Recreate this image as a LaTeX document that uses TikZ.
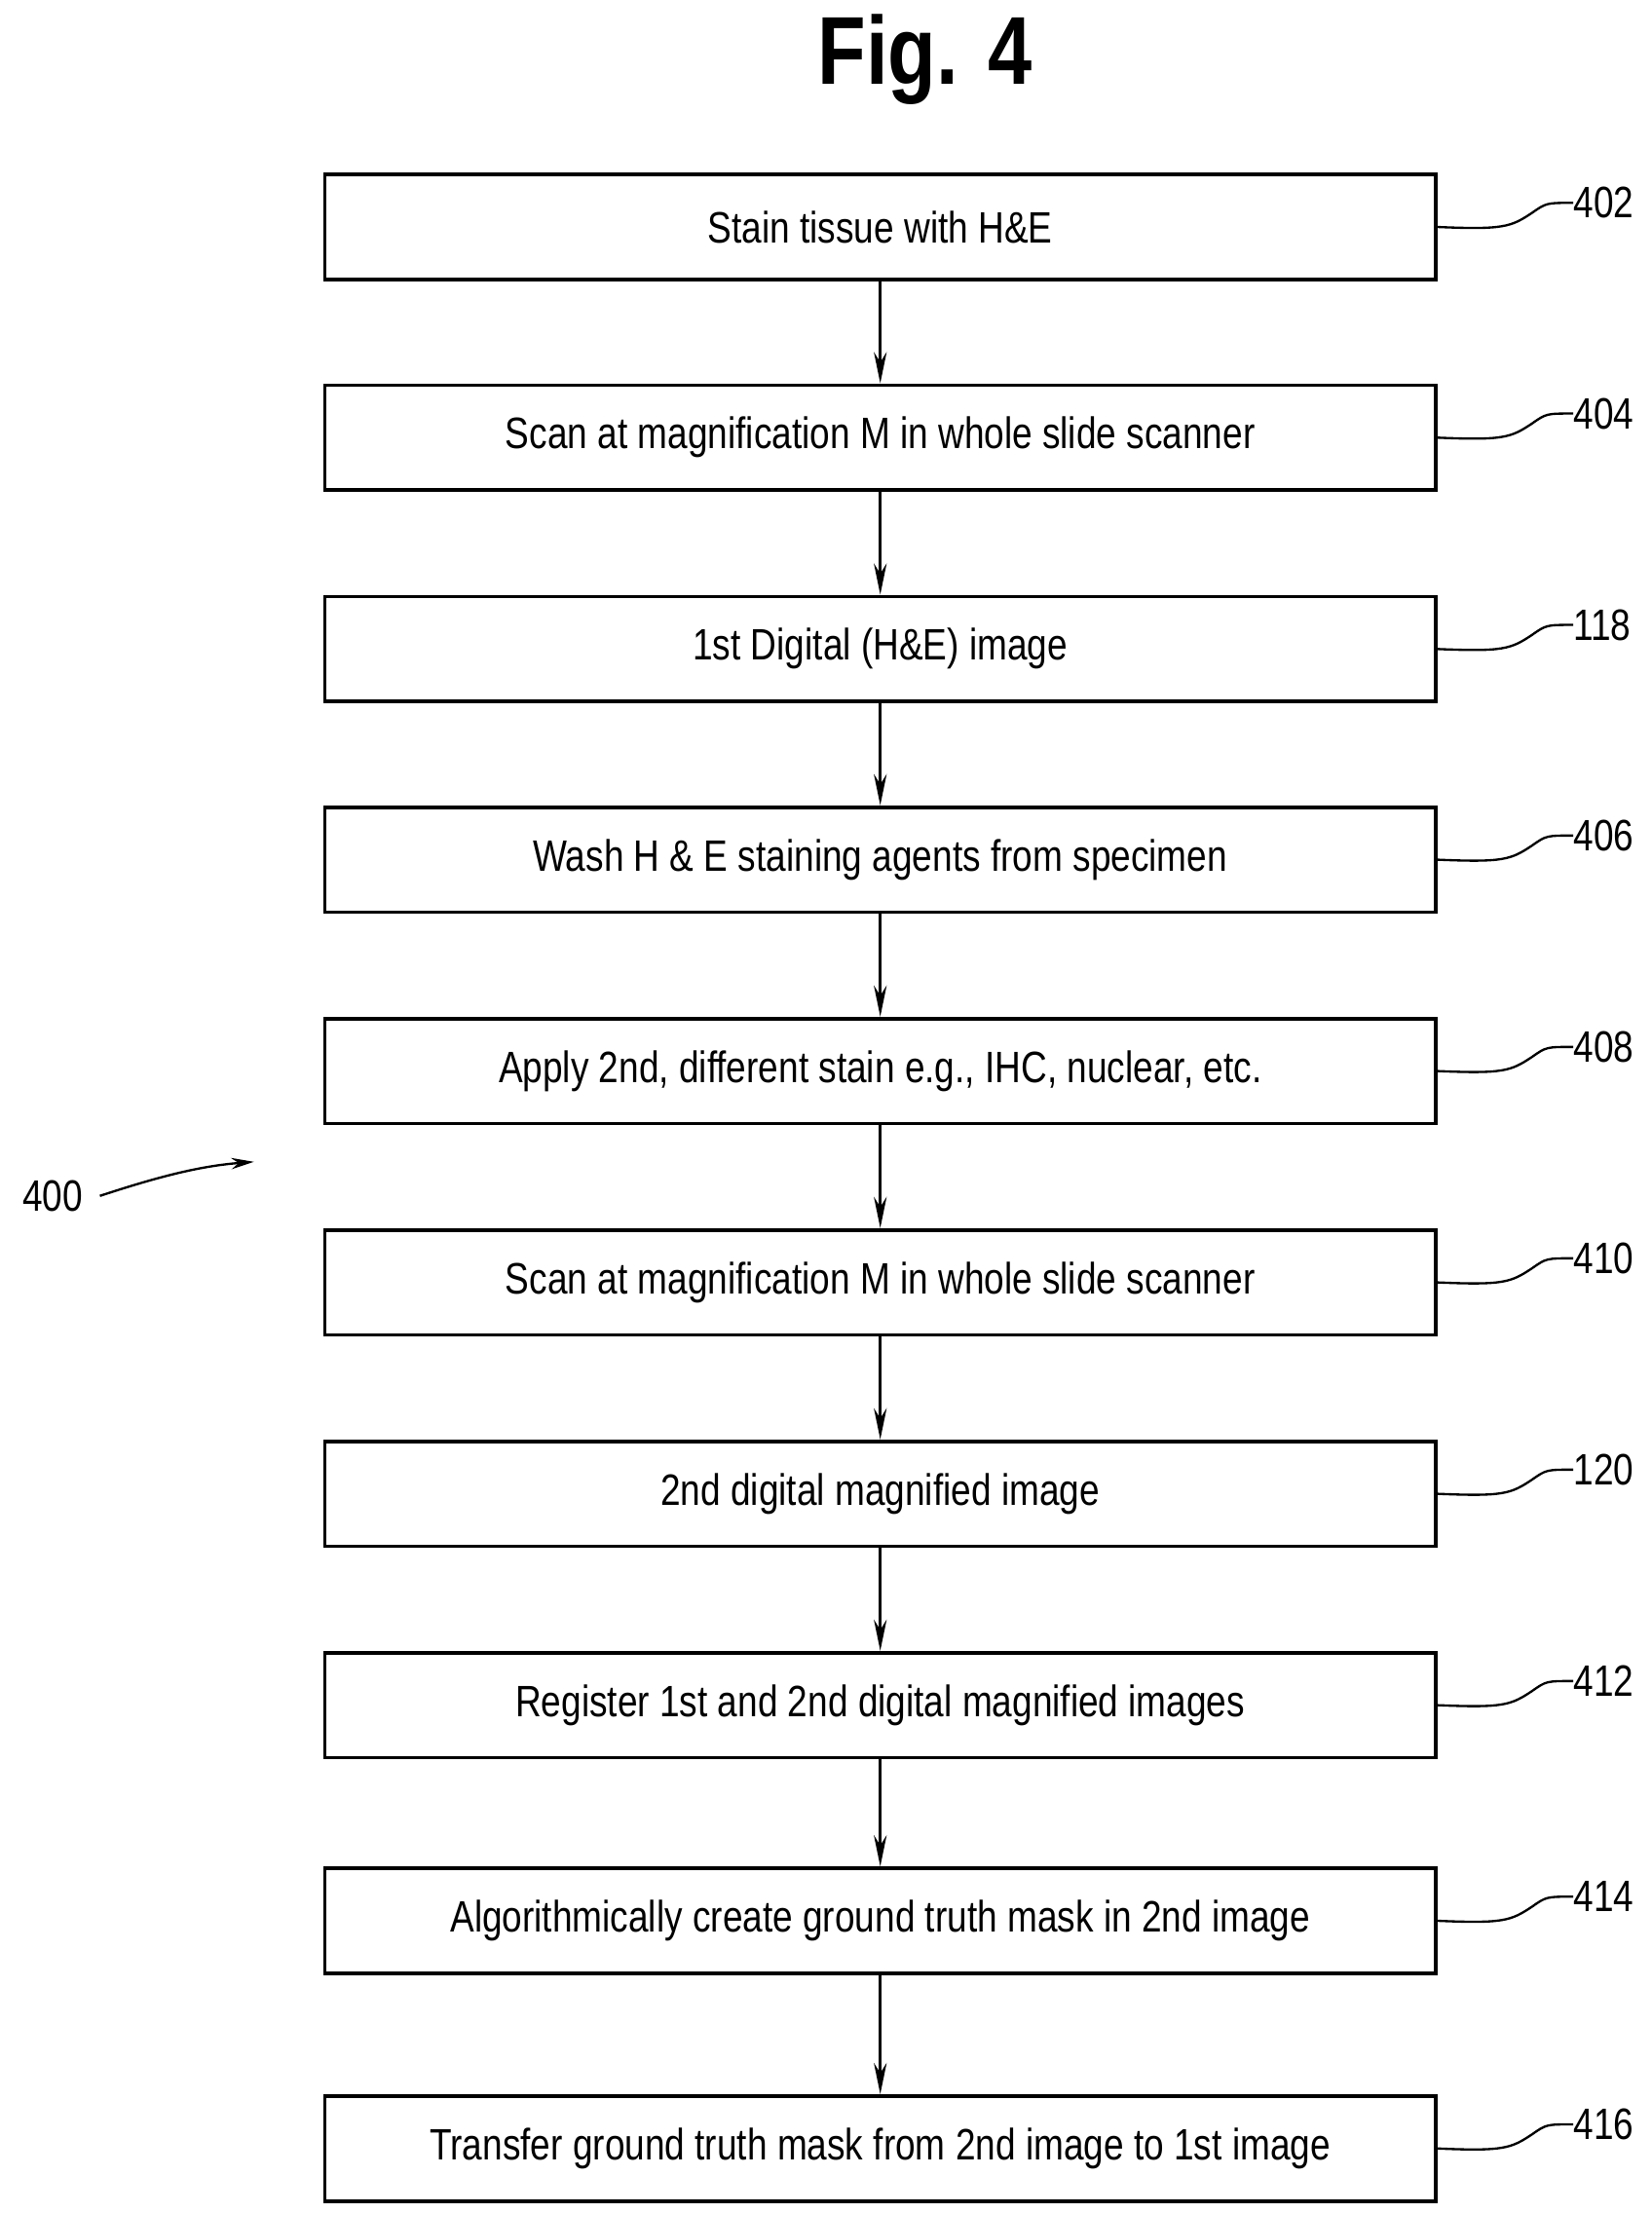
\documentclass[tikz,border=0pt]{standalone}
\usepackage{fontspec}
\setmainfont{Liberation Sans}[FakeStretch=0.82]
\usetikzlibrary{arrows.meta}
\begin{document}
\begin{tikzpicture}[x=1pt,y=-1pt,
 box/.style={draw,line width=2.6pt,minimum width=783pt,minimum height=74pt,inner sep=0pt,font=\fontsize{31}{36}\selectfont},
 arr/.style={line width=1.8pt,-{Stealth[length=22pt,width=9pt]}},
 lead/.style={line width=1.6pt},
 lab/.style={font=\fontsize{31}{36}\selectfont,anchor=west,inner sep=0pt}]
\useasboundingbox (0,0) rectangle (1164,1560);
\node[font=\bfseries\fontsize{68}{80}\selectfont] (title) at (652,42) {Fig. 4};
\foreach \n/\y/\t/\l in {a/160/Stain tissue with H\&E/402,
 b/308.5/Scan at magnification M in whole slide scanner/404,
 c/457.5/1st Digital (H\&E) image/118,
 d/606/Wash H \& E staining agents from specimen/406,
 e/755/{Apply 2nd, different stain e.g., IHC, nuclear, etc.}/408,
 f/904/Scan at magnification M in whole slide scanner/410,
 g/1053/2nd digital magnified image/120,
 h/1202/Register 1st and 2nd digital magnified images/412,
 i/1354/Algorithmically create ground truth mask in 2nd image/414,
 j/1514.5/Transfer ground truth mask from 2nd image to 1st image/416}{
 \node[box] (\n) at (620.5,\y) {\t};
 \node[lab] (l\n) at (1109,\y-17) {\l};
 \draw[lead] (\n.east) .. controls (1060,\y+2) and (1065,\y) .. (1080,\y-10) .. controls (1090,\y-17) .. (l\n.west);
}
\foreach \p/\q in {a/b,b/c,c/d,d/e,e/f,f/g,g/h,h/i,i/j}{\draw[arr] (\p) -- (\q);}
\node[lab,anchor=center] (l400) at (37,843) {400};
\coordinate (tip) at (179,819);
\draw[lead,-{Stealth[length=16pt,width=8pt]}] (l400.east)+(12,0) .. controls (110,830) and (140,822) .. (tip);
\end{tikzpicture}
\end{document}
